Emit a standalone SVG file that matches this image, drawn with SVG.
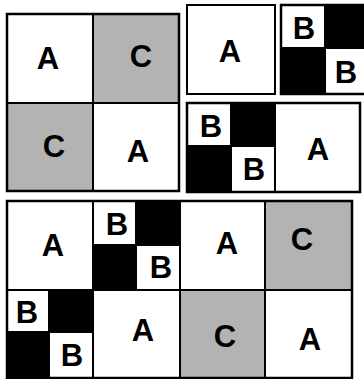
<svg xmlns="http://www.w3.org/2000/svg" width="364" height="379" viewBox="0 0 364 379">
<style>
.w{fill:#fff;stroke:#000;stroke-width:2}
.g{fill:#b3b3b3;stroke:#000;stroke-width:2}
.k{fill:#000;stroke:#000;stroke-width:2}
.o{fill:none;stroke:#000;stroke-width:2.5}
text{font-family:"Liberation Sans",Arial,sans-serif;font-weight:bold;font-size:31px;text-anchor:middle;fill:#000}
</style>
<rect width="364" height="379" fill="#fff"/>
<g id="block1">
<rect class="w" x="7" y="14" width="86" height="89"/>
<rect class="g" x="93" y="14" width="86" height="89"/>
<rect class="g" x="7" y="103" width="86" height="88"/>
<rect class="w" x="93" y="103" width="86" height="88"/>
<rect class="o" x="7" y="14" width="172" height="177"/>
<text x="48" y="69">A</text>
<text x="141" y="67">C</text>
<text x="54" y="157">C</text>
<text x="138" y="162">A</text>
</g>
<g id="block2">
<rect class="w" x="187" y="5" width="88" height="89"/>
<text x="230" y="62">A</text>
</g>
<g id="block3">
<rect class="w" x="281" y="5" width="44" height="43"/>
<rect class="k" x="325" y="5" width="44" height="43"/>
<rect class="k" x="281" y="48" width="44" height="46"/>
<rect class="w" x="325" y="48" width="44" height="46"/>
<rect class="o" x="281" y="5" width="88" height="89"/>
<text x="304" y="39">B</text>
<text x="346" y="83">B</text>
</g>
<g id="block4">
<rect class="w" x="187" y="103" width="44" height="43"/>
<rect class="k" x="231" y="103" width="44" height="43"/>
<rect class="k" x="187" y="146" width="44" height="46"/>
<rect class="w" x="231" y="146" width="44" height="46"/>
<rect class="w" x="275" y="103" width="85" height="89"/>
<rect class="o" x="187" y="103" width="173" height="89"/>
<text x="211" y="137">B</text>
<text x="254" y="180">B</text>
<text x="318" y="160">A</text>
</g>
<g id="block5">
<rect class="w" x="7" y="201" width="86" height="89"/>
<rect class="w" x="93" y="201" width="43" height="44"/>
<rect class="k" x="136" y="201" width="44" height="44"/>
<rect class="k" x="93" y="245" width="43" height="45"/>
<rect class="w" x="136" y="245" width="44" height="45"/>
<rect class="w" x="180" y="201" width="85" height="89"/>
<rect class="g" x="265" y="201" width="87" height="89"/>
<rect class="w" x="7" y="290" width="42" height="42"/>
<rect class="k" x="49" y="290" width="44" height="42"/>
<rect class="k" x="7" y="332" width="42" height="46"/>
<rect class="w" x="49" y="332" width="44" height="46"/>
<rect class="w" x="93" y="290" width="87" height="88"/>
<rect class="g" x="180" y="290" width="85" height="88"/>
<rect class="w" x="265" y="290" width="87" height="88"/>
<rect class="o" x="7" y="201" width="345" height="177"/>
<text x="53" y="256">A</text>
<text x="117" y="235">B</text>
<text x="161" y="278">B</text>
<text x="227" y="254">A</text>
<text x="302" y="250">C</text>
<text x="27" y="323">B</text>
<text x="72" y="366">B</text>
<text x="143" y="341">A</text>
<text x="225" y="347">C</text>
<text x="310" y="350">A</text>
</g>
</svg>
